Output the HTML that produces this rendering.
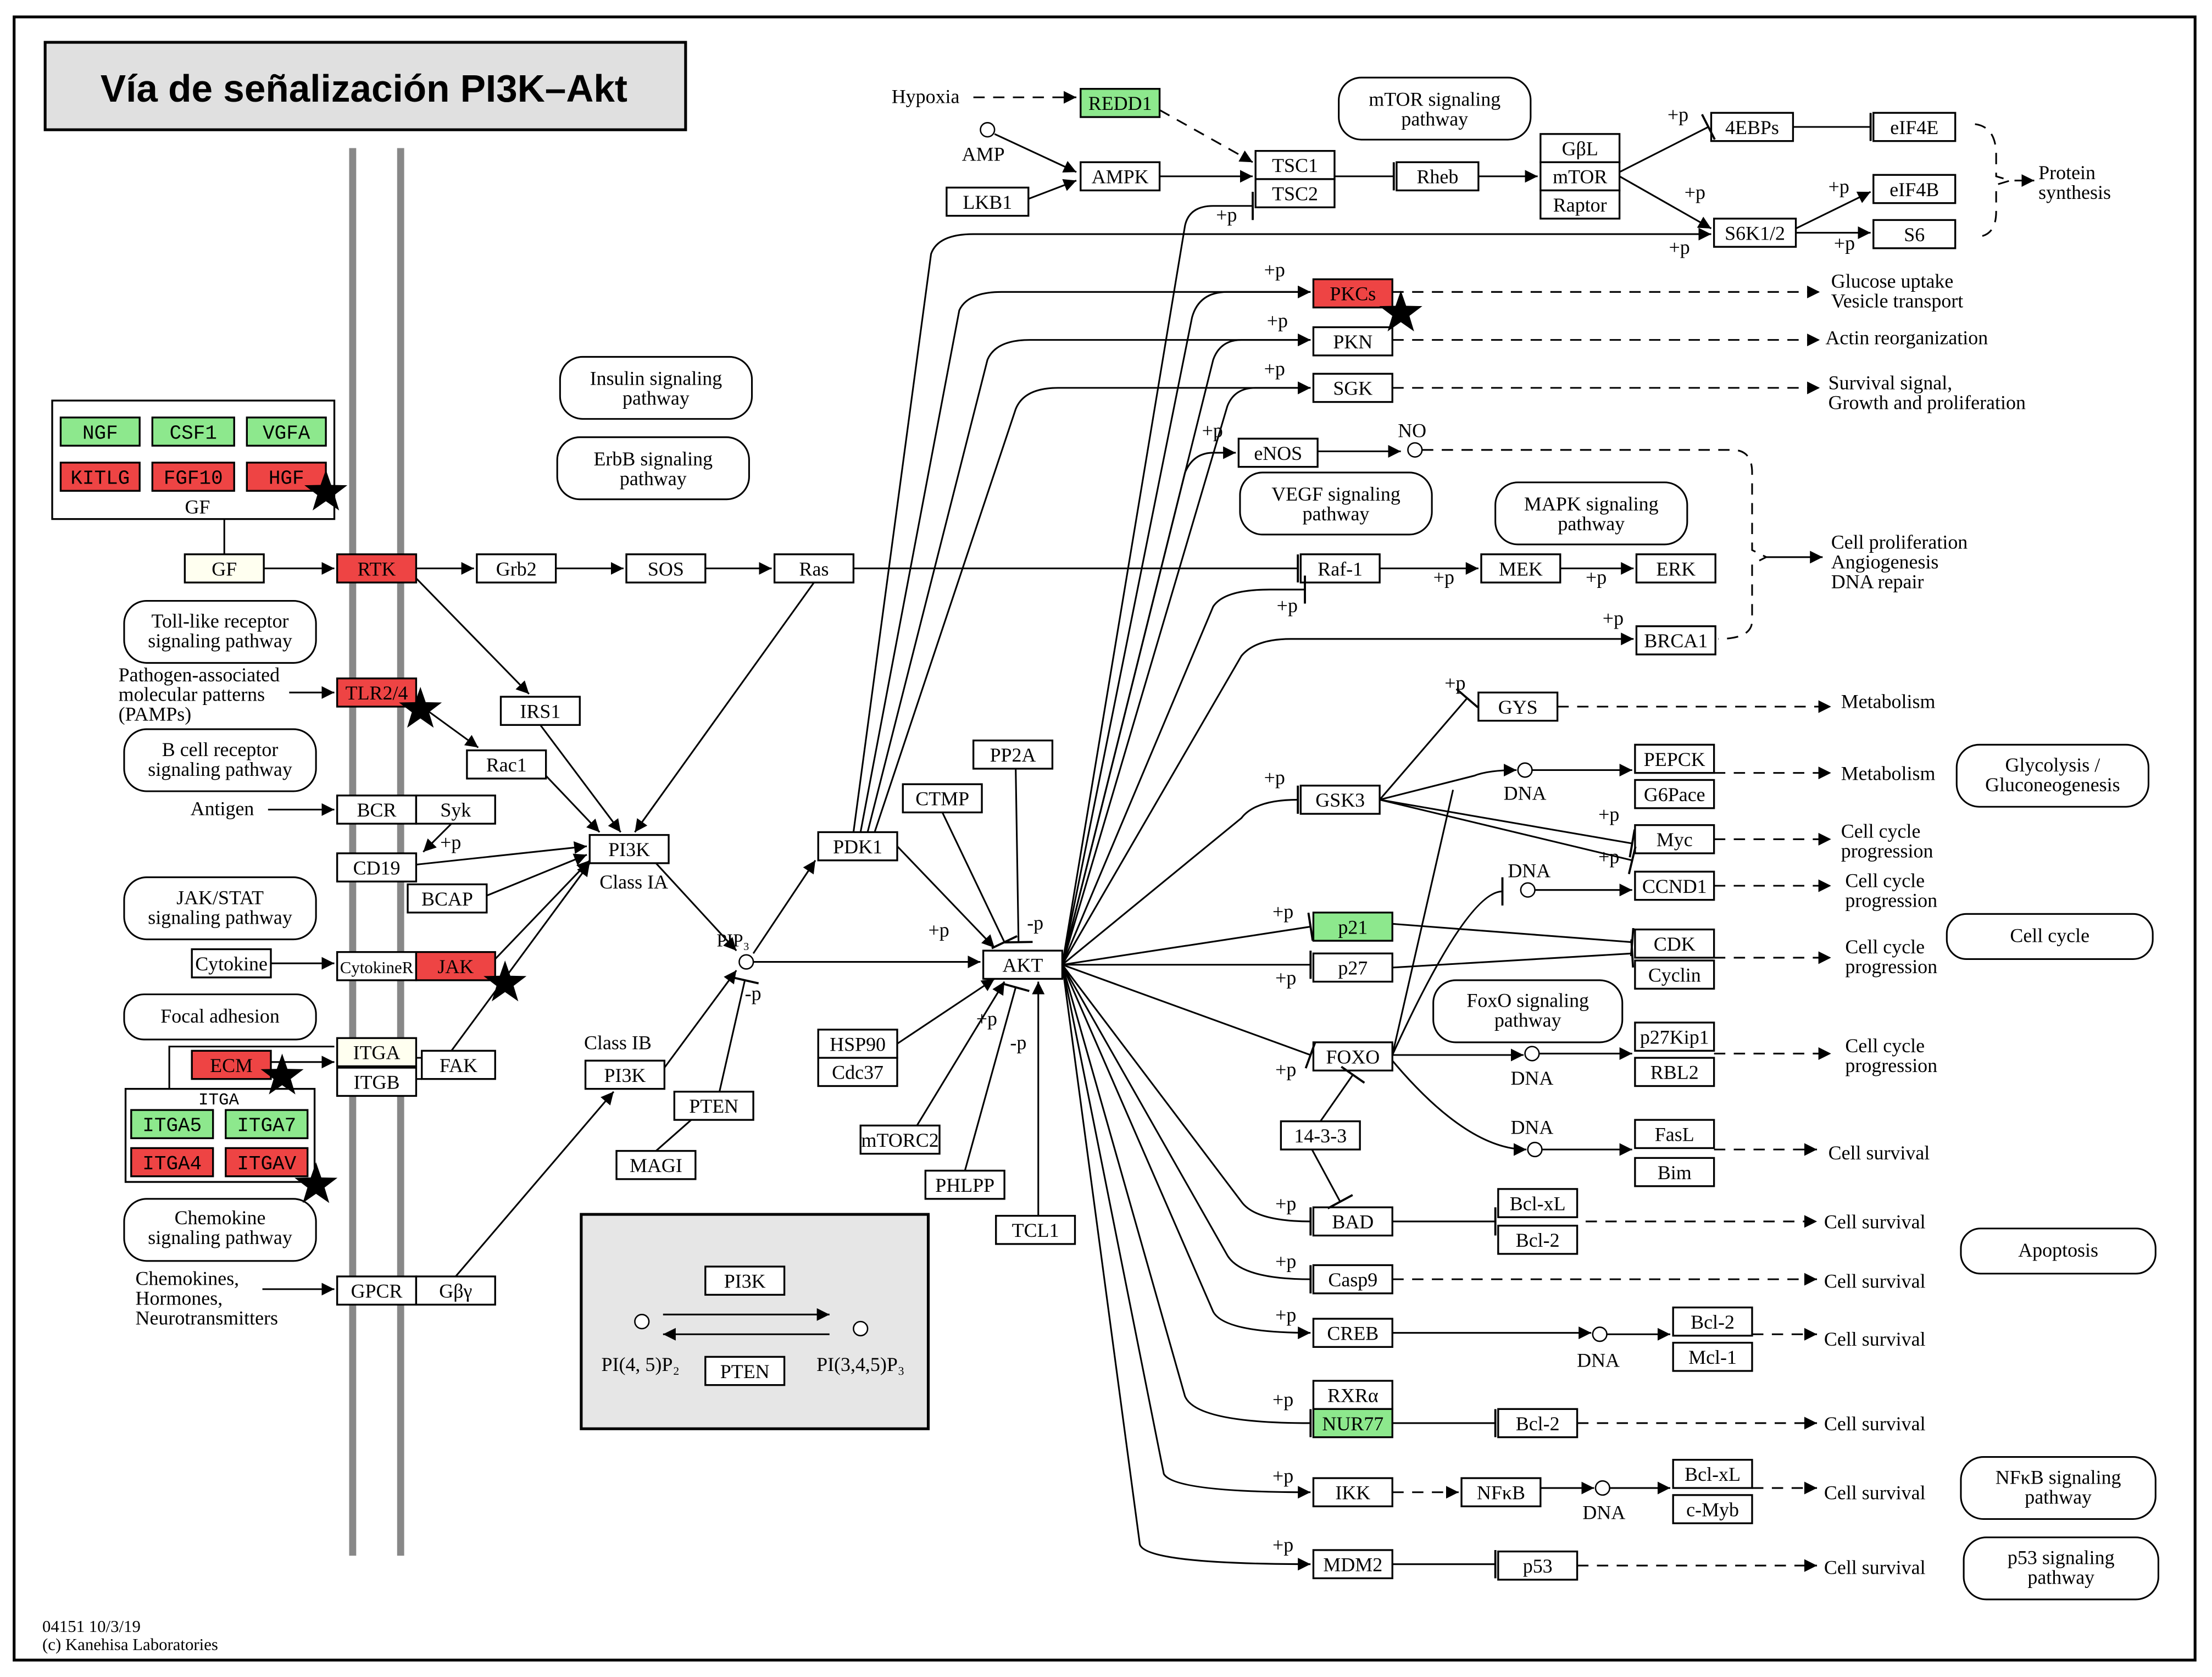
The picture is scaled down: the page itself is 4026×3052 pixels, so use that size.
<!DOCTYPE html>
<html><head><meta charset="utf-8"><style>
html,body{margin:0;padding:0;background:#fff}
svg{display:block}
.n{fill:#fff;stroke:#000;stroke-width:1.3}
.g{fill:#8de88d;stroke:#000;stroke-width:1.3}
.r{fill:#ee4444;stroke:#000;stroke-width:1.3}
.rr{fill:#fff;stroke:#000;stroke-width:1.2}
text{font-family:"Liberation Serif",serif;font-size:14px;fill:#000}
.c{text-anchor:middle}
.m{font-family:"Liberation Mono",monospace;font-size:14px}
.e{fill:none;stroke:#000;stroke-width:1.2}
.d{fill:none;stroke:#000;stroke-width:1.2;stroke-dasharray:8,6}
</style></head><body>
<svg width="4026" height="3052" viewBox="0 0 1568 1189" preserveAspectRatio="none" xmlns="http://www.w3.org/2000/svg">
<defs>
<marker id="a" viewBox="0 0 10 10" refX="10" refY="5" markerWidth="9" markerHeight="9" markerUnits="userSpaceOnUse" orient="auto"><path d="M0,0L10,5L0,10z"/></marker>
<marker id="t" viewBox="0 0 4 20" refX="2" refY="10" markerWidth="4" markerHeight="20" markerUnits="userSpaceOnUse" orient="auto"><path d="M2,0V20" stroke="#000" stroke-width="1.5"/></marker>
<symbol id="s" viewBox="-1 -1 2 2"><path d="M0,-1L0.235,-0.324L0.951,-0.309L0.38,0.124L0.588,0.809L0,0.4L-0.588,0.809L-0.38,0.124L-0.951,-0.309L-0.235,-0.324z"/></symbol>
</defs>
<rect x="10" y="12" width="1546" height="1165" fill="none" stroke="#000" stroke-width="2"/>
<rect x="32" y="30" width="454" height="62" fill="#e0e0e0" stroke="#000" stroke-width="2"/>
<text x="258" y="72" class="c" style="font-family:'Liberation Sans',sans-serif;font-weight:bold;font-size:27px">Vía de señalización PI3K–Akt</text>
<line x1="250" y1="105" x2="250" y2="1103" stroke="#888" stroke-width="5"/>
<line x1="284" y1="105" x2="284" y2="1103" stroke="#888" stroke-width="5"/>

<rect class="rr" x="949" y="55" width="136" height="44" rx="16"/><text class="c" x="1017" y="75">mTOR signaling</text><text class="c" x="1017" y="89">pathway</text>
<rect class="rr" x="397" y="253" width="136" height="44" rx="16"/><text class="c" x="465" y="273">Insulin signaling</text><text class="c" x="465" y="287">pathway</text>
<rect class="rr" x="395" y="310" width="136" height="44" rx="16"/><text class="c" x="463" y="330">ErbB signaling</text><text class="c" x="463" y="344">pathway</text>
<rect class="rr" x="879" y="335" width="136" height="44" rx="16"/><text class="c" x="947" y="355">VEGF signaling</text><text class="c" x="947" y="369">pathway</text>
<rect class="rr" x="1060" y="342" width="136" height="44" rx="16"/><text class="c" x="1128" y="362">MAPK signaling</text><text class="c" x="1128" y="376">pathway</text>
<rect class="rr" x="88" y="426" width="136" height="44" rx="16"/><text class="c" x="156" y="445">Toll-like receptor</text><text class="c" x="156" y="459">signaling pathway</text>
<rect class="rr" x="88" y="517" width="136" height="44" rx="16"/><text class="c" x="156" y="536">B cell receptor</text><text class="c" x="156" y="550">signaling pathway</text>
<rect class="rr" x="88" y="622" width="136" height="44" rx="16"/><text class="c" x="156" y="641">JAK/STAT</text><text class="c" x="156" y="655">signaling pathway</text>
<rect class="rr" x="88" y="705" width="136" height="32" rx="14"/><text class="c" x="156" y="725">Focal adhesion</text>
<rect class="rr" x="88" y="850" width="136" height="44" rx="16"/><text class="c" x="156" y="868">Chemokine</text><text class="c" x="156" y="882">signaling pathway</text>
<rect class="rr" x="1016" y="695" width="134" height="44" rx="16"/><text class="c" x="1083" y="714">FoxO signaling</text><text class="c" x="1083" y="728">pathway</text>
<rect class="rr" x="1387" y="528" width="136" height="44" rx="16"/><text class="c" x="1455" y="547">Glycolysis /</text><text class="c" x="1455" y="561">Gluconeogenesis</text>
<rect class="rr" x="1380" y="648" width="146" height="32" rx="14"/><text class="c" x="1453" y="668">Cell cycle</text>
<rect class="rr" x="1390" y="871" width="138" height="32" rx="14"/><text class="c" x="1459" y="891">Apoptosis</text>
<rect class="rr" x="1390" y="1033" width="138" height="44" rx="16"/><text class="c" x="1459" y="1052">NFκB signaling</text><text class="c" x="1459" y="1066">pathway</text>
<rect class="rr" x="1392" y="1090" width="138" height="44" rx="16"/><text class="c" x="1461" y="1109">p53 signaling</text><text class="c" x="1461" y="1123">pathway</text>

<rect x="412" y="861" width="246" height="152" fill="#e6e6e6" stroke="#000" stroke-width="2"/>
<rect class="n" x="500" y="898" width="56" height="20"/><text class="c" x="528" y="913">PI3K</text>
<rect class="n" x="500" y="962" width="56" height="20"/><text class="c" x="528" y="977">PTEN</text>
<circle cx="455" cy="937" r="5" fill="#fff" stroke="#000"/><circle cx="610" cy="942" r="5" fill="#fff" stroke="#000"/>
<line class="e" x1="470" y1="932" x2="588" y2="932" marker-end="url(#a)"/>
<line class="e" x1="588" y1="946" x2="470" y2="946" marker-end="url(#a)"/>
<text class="c" x="454" y="972">PI(4, 5)P₂</text><text class="c" x="610" y="972">PI(3,4,5)P₃</text>

<rect class="n" x="37" y="284" width="200" height="84"/>
<rect class="g" x="43" y="296" width="56" height="20"/><text class="c m" x="71" y="311">NGF</text>
<rect class="g" x="108" y="296" width="58" height="20"/><text class="c m" x="137" y="311">CSF1</text>
<rect class="g" x="175" y="296" width="56" height="20"/><text class="c m" x="203" y="311">VGFA</text>
<rect class="r" x="43" y="328" width="56" height="20"/><text class="c m" x="71" y="343">KITLG</text>
<rect class="r" x="108" y="328" width="58" height="20"/><text class="c m" x="137" y="343">FGF10</text>
<rect class="r" x="175" y="328" width="56" height="20"/><text class="c m" x="203" y="343">HGF</text>
<text class="c" x="140" y="364">GF</text>
<line class="e" x1="159" y1="368" x2="159" y2="393"/>

<rect class="n" x="89" y="772" width="134" height="66"/>
<text class="c m" x="155" y="783" style="font-size:12px">ITGA</text>
<rect class="g" x="93" y="787" width="58" height="20"/><text class="c m" x="122" y="802">ITGA5</text>
<rect class="g" x="160" y="787" width="58" height="20"/><text class="c m" x="189" y="802">ITGA7</text>
<rect class="r" x="93" y="814" width="58" height="20"/><text class="c m" x="122" y="829">ITGA4</text>
<rect class="r" x="160" y="814" width="58" height="20"/><text class="c m" x="189" y="829">ITGAV</text>

<g>
<rect class="g" x="766" y="63" width="56" height="20"/><text class="c" x="794" y="78">REDD1</text>
<rect class="n" x="671" y="133" width="58" height="20"/><text class="c" x="700" y="148">LKB1</text>
<rect class="n" x="766" y="115" width="56" height="20"/><text class="c" x="794" y="130">AMPK</text>
<rect class="n" x="890" y="107" width="56" height="20"/><text class="c" x="918" y="122">TSC1</text>
<rect class="n" x="890" y="127" width="56" height="20"/><text class="c" x="918" y="142">TSC2</text>
<rect class="n" x="990" y="115" width="58" height="20"/><text class="c" x="1019" y="130">Rheb</text>
<rect class="n" x="1092" y="95" width="56" height="20"/><text class="c" x="1120" y="110">GβL</text>
<rect class="n" x="1092" y="115" width="56" height="20"/><text class="c" x="1120" y="130">mTOR</text>
<rect class="n" x="1092" y="135" width="56" height="20"/><text class="c" x="1120" y="150">Raptor</text>
<rect class="n" x="1213" y="80" width="58" height="20"/><text class="c" x="1242" y="95">4EBPs</text>
<rect class="n" x="1328" y="80" width="58" height="20"/><text class="c" x="1357" y="95">eIF4E</text>
<rect class="n" x="1328" y="124" width="58" height="20"/><text class="c" x="1357" y="139">eIF4B</text>
<rect class="n" x="1328" y="156" width="58" height="20"/><text class="c" x="1357" y="171">S6</text>
<rect class="n" x="1215" y="155" width="58" height="20"/><text class="c" x="1244" y="170">S6K1/2</text>
<rect class="r" x="931" y="198" width="56" height="20"/><text class="c" x="959" y="213">PKCs</text>
<rect class="n" x="931" y="232" width="56" height="20"/><text class="c" x="959" y="247">PKN</text>
<rect class="n" x="931" y="265" width="56" height="20"/><text class="c" x="959" y="280">SGK</text>
<rect class="n" x="878" y="311" width="56" height="20"/><text class="c" x="906" y="326">eNOS</text>
<rect class="n" x="922" y="393" width="56" height="20"/><text class="c" x="950" y="408">Raf-1</text>
<rect class="n" x="1050" y="393" width="56" height="20"/><text class="c" x="1078" y="408">MEK</text>
<rect class="n" x="1160" y="393" width="56" height="20"/><text class="c" x="1188" y="408">ERK</text>
<rect class="n" x="1160" y="444" width="56" height="20"/><text class="c" x="1188" y="459">BRCA1</text>
<rect x="131" y="393" width="56" height="20" fill="#fffff0" stroke="#000" stroke-width="1.3"/><text class="c" x="159" y="408">GF</text>
<rect class="r" x="239" y="393" width="56" height="20"/><text class="c" x="267" y="408">RTK</text>
<rect class="n" x="338" y="393" width="56" height="20"/><text class="c" x="366" y="408">Grb2</text>
<rect class="n" x="444" y="393" width="56" height="20"/><text class="c" x="472" y="408">SOS</text>
<rect class="n" x="549" y="393" width="56" height="20"/><text class="c" x="577" y="408">Ras</text>
<rect class="r" x="239" y="481" width="56" height="20"/><text class="c" x="267" y="496">TLR2/4</text>
<rect class="n" x="355" y="494" width="56" height="20"/><text class="c" x="383" y="509">IRS1</text>
<rect class="n" x="331" y="532" width="56" height="20"/><text class="c" x="359" y="547">Rac1</text>
<rect class="n" x="239" y="564" width="56" height="20"/><text class="c" x="267" y="579">BCR</text>
<rect class="n" x="295" y="564" width="56" height="20"/><text class="c" x="323" y="579">Syk</text>
<rect class="n" x="239" y="605" width="56" height="20"/><text class="c" x="267" y="620">CD19</text>
<rect class="n" x="289" y="627" width="56" height="20"/><text class="c" x="317" y="642">BCAP</text>
<rect class="n" x="418" y="592" width="56" height="20"/><text class="c" x="446" y="607">PI3K</text>
<rect class="n" x="136" y="673" width="56" height="20"/><text class="c" x="164" y="688">Cytokine</text>
<rect class="n" x="239" y="675" width="56" height="20"/><text class="c" x="267" y="690" style="font-size:12px">CytokineR</text>
<rect class="r" x="295" y="675" width="56" height="20"/><text class="c" x="323" y="690">JAK</text>
<rect class="r" x="136" y="745" width="56" height="20"/><text class="c" x="164" y="760">ECM</text>
<rect x="239" y="736" width="56" height="20" fill="#fffff0" stroke="#000" stroke-width="1.3"/><text class="c" x="267" y="751">ITGA</text>
<rect class="n" x="239" y="757" width="56" height="20"/><text class="c" x="267" y="772">ITGB</text>
<rect class="n" x="299" y="745" width="52" height="20"/><text class="c" x="325" y="760">FAK</text>
<rect class="n" x="239" y="905" width="56" height="20"/><text class="c" x="267" y="920">GPCR</text>
<rect class="n" x="295" y="905" width="56" height="20"/><text class="c" x="323" y="920">Gβγ</text>
<rect class="n" x="415" y="752" width="56" height="20"/><text class="c" x="443" y="767">PI3K</text>
<rect class="n" x="478" y="774" width="56" height="20"/><text class="c" x="506" y="789">PTEN</text>
<rect class="n" x="437" y="816" width="56" height="20"/><text class="c" x="465" y="831">MAGI</text>
<rect class="n" x="580" y="590" width="56" height="20"/><text class="c" x="608" y="605">PDK1</text>
<rect class="n" x="640" y="556" width="56" height="20"/><text class="c" x="668" y="571">CTMP</text>
<rect class="n" x="690" y="525" width="56" height="20"/><text class="c" x="718" y="540">PP2A</text>
<rect class="n" x="697" y="674" width="56" height="20"/><text class="c" x="725" y="689">AKT</text>
<rect class="n" x="580" y="730" width="56" height="20"/><text class="c" x="608" y="745">HSP90</text>
<rect class="n" x="580" y="750" width="56" height="20"/><text class="c" x="608" y="765">Cdc37</text>
<rect class="n" x="610" y="798" width="56" height="20"/><text class="c" x="638" y="813">mTORC2</text>
<rect class="n" x="656" y="830" width="56" height="20"/><text class="c" x="684" y="845">PHLPP</text>
<rect class="n" x="706" y="862" width="56" height="20"/><text class="c" x="734" y="877">TCL1</text>
<rect class="n" x="1048" y="491" width="56" height="20"/><text class="c" x="1076" y="506">GYS</text>
<rect class="n" x="922" y="557" width="56" height="20"/><text class="c" x="950" y="572">GSK3</text>
<rect class="n" x="1159" y="528" width="56" height="20"/><text class="c" x="1187" y="543">PEPCK</text>
<rect class="n" x="1159" y="553" width="56" height="20"/><text class="c" x="1187" y="568">G6Pace</text>
<rect class="n" x="1159" y="585" width="56" height="20"/><text class="c" x="1187" y="600">Myc</text>
<rect class="n" x="1159" y="618" width="56" height="20"/><text class="c" x="1187" y="633">CCND1</text>
<rect class="g" x="931" y="647" width="56" height="20"/><text class="c" x="959" y="662">p21</text>
<rect class="n" x="931" y="676" width="56" height="20"/><text class="c" x="959" y="691">p27</text>
<rect class="n" x="1159" y="659" width="56" height="20"/><text class="c" x="1187" y="674">CDK</text>
<rect class="n" x="1159" y="681" width="56" height="20"/><text class="c" x="1187" y="696">Cyclin</text>
<rect class="n" x="931" y="739" width="56" height="20"/><text class="c" x="959" y="754">FOXO</text>
<rect class="n" x="1159" y="725" width="56" height="20"/><text class="c" x="1187" y="740">p27Kip1</text>
<rect class="n" x="1159" y="750" width="56" height="20"/><text class="c" x="1187" y="765">RBL2</text>
<rect class="n" x="908" y="795" width="56" height="20"/><text class="c" x="936" y="810">14-3-3</text>
<rect class="n" x="1159" y="794" width="56" height="20"/><text class="c" x="1187" y="809">FasL</text>
<rect class="n" x="1159" y="821" width="56" height="20"/><text class="c" x="1187" y="836">Bim</text>
<rect class="n" x="931" y="856" width="56" height="20"/><text class="c" x="959" y="871">BAD</text>
<rect class="n" x="1062" y="843" width="56" height="20"/><text class="c" x="1090" y="858">Bcl-xL</text>
<rect class="n" x="1062" y="869" width="56" height="20"/><text class="c" x="1090" y="884">Bcl-2</text>
<rect class="n" x="931" y="897" width="56" height="20"/><text class="c" x="959" y="912">Casp9</text>
<rect class="n" x="931" y="935" width="56" height="20"/><text class="c" x="959" y="950">CREB</text>
<rect class="n" x="1186" y="927" width="56" height="20"/><text class="c" x="1214" y="942">Bcl-2</text>
<rect class="n" x="1186" y="952" width="56" height="20"/><text class="c" x="1214" y="967">Mcl-1</text>
<rect class="n" x="931" y="979" width="56" height="20"/><text class="c" x="959" y="994">RXRα</text>
<rect class="g" x="931" y="999" width="56" height="20"/><text class="c" x="959" y="1014">NUR77</text>
<rect class="n" x="1062" y="999" width="56" height="20"/><text class="c" x="1090" y="1014">Bcl-2</text>
<rect class="n" x="931" y="1048" width="56" height="20"/><text class="c" x="959" y="1063">IKK</text>
<rect class="n" x="1036" y="1048" width="56" height="20"/><text class="c" x="1064" y="1063">NFκB</text>
<rect class="n" x="1186" y="1035" width="56" height="20"/><text class="c" x="1214" y="1050">Bcl-xL</text>
<rect class="n" x="1186" y="1060" width="56" height="20"/><text class="c" x="1214" y="1075">c-Myb</text>
<rect class="n" x="931" y="1099" width="56" height="20"/><text class="c" x="959" y="1114">MDM2</text>
<rect class="n" x="1062" y="1100" width="56" height="20"/><text class="c" x="1090" y="1115">p53</text>
</g>

<text x="632" y="73">Hypoxia</text>
<circle cx="700" cy="92" r="5" fill="#fff" stroke="#000"/><text class="c" x="697" y="114">AMP</text>
<text x="1445" y="127">Protein</text><text x="1445" y="141">synthesis</text>
<text x="1298" y="204">Glucose uptake</text><text x="1298" y="218">Vesicle transport</text>
<text x="1294" y="244">Actin reorganization</text>
<text x="1296" y="276">Survival signal,</text><text x="1296" y="290">Growth and proliferation</text>
<circle cx="1003" cy="319" r="5" fill="#fff" stroke="#000"/><text class="c" x="1001" y="310">NO</text>
<text x="1298" y="389">Cell proliferation</text><text x="1298" y="403">Angiogenesis</text><text x="1298" y="417">DNA repair</text>
<text x="84" y="483">Pathogen-associated</text><text x="84" y="497">molecular patterns</text><text x="84" y="511">(PAMPs)</text>
<text x="135" y="578">Antigen</text>
<text x="425" y="630">Class IA</text>
<text x="414" y="744">Class IB</text>
<text x="96" y="911">Chemokines,</text><text x="96" y="925">Hormones,</text><text x="96" y="939">Neurotransmitters</text>
<circle cx="529" cy="682" r="5" fill="#fff" stroke="#000"/><text x="508" y="671" style="font-size:13px">PIP₃</text>
<text x="1305" y="502">Metabolism</text>
<text x="1305" y="553">Metabolism</text>
<text x="1305" y="594">Cell cycle</text><text x="1305" y="608">progression</text>
<text x="1308" y="629">Cell cycle</text><text x="1308" y="643">progression</text>
<text x="1308" y="676">Cell cycle</text><text x="1308" y="690">progression</text>
<text x="1308" y="746">Cell cycle</text><text x="1308" y="760">progression</text>
<text x="1296" y="822">Cell survival</text>
<text x="1293" y="871">Cell survival</text>
<text x="1293" y="913">Cell survival</text>
<text x="1293" y="954">Cell survival</text>
<text x="1293" y="1014">Cell survival</text>
<text x="1293" y="1063">Cell survival</text>
<text x="1293" y="1116">Cell survival</text>
<text x="30" y="1157" style="font-size:12px">04151 10/3/19</text>
<text x="30" y="1170" style="font-size:12px">(c) Kanehisa Laboratories</text>
<circle cx="1081" cy="546" r="5" fill="#fff" stroke="#000"/><text class="c" x="1081" y="567">DNA</text>
<circle cx="1083" cy="631" r="5" fill="#fff" stroke="#000"/><text class="c" x="1084" y="622">DNA</text>
<circle cx="1086" cy="747" r="5" fill="#fff" stroke="#000"/><text class="c" x="1086" y="769">DNA</text>
<circle cx="1088" cy="815" r="5" fill="#fff" stroke="#000"/><text class="c" x="1086" y="804">DNA</text>
<circle cx="1134" cy="946" r="5" fill="#fff" stroke="#000"/><text class="c" x="1133" y="969">DNA</text>
<circle cx="1136" cy="1055" r="5" fill="#fff" stroke="#000"/><text class="c" x="1137" y="1077">DNA</text>
<g style="font-size:13px">
<text x="1182" y="86">+p</text><text x="1194" y="141">+p</text><text x="1296" y="137">+p</text><text x="1300" y="177">+p</text><text x="1183" y="180">+p</text>
<text x="862" y="157">+p</text><text x="896" y="196">+p</text><text x="898" y="232">+p</text><text x="896" y="266">+p</text><text x="852" y="310">+p</text>
<text x="905" y="434">+p</text><text x="1016" y="414">+p</text><text x="1124" y="414">+p</text><text x="1136" y="443">+p</text>
<text x="312" y="602">+p</text><text x="658" y="664">+p</text><text x="728" y="659">-p</text><text x="692" y="727">+p</text><text x="716" y="744">-p</text><text x="528" y="709">-p</text>
<text x="1024" y="489">+p</text><text x="896" y="556">+p</text><text x="1133" y="582">+p</text><text x="1133" y="612">+p</text>
<text x="902" y="651">+p</text><text x="904" y="698">+p</text><text x="904" y="763">+p</text><text x="904" y="858">+p</text><text x="904" y="899">+p</text><text x="904" y="937">+p</text><text x="902" y="997">+p</text><text x="902" y="1051">+p</text><text x="902" y="1100">+p</text>
</g>

<g class="e" fill="none" stroke="#000" stroke-width="1.2">
<path class="d" d="M690,69H763" marker-end="url(#a)"/>
<path class="d" d="M822,78L888,115" marker-end="url(#a)"/>
<path d="M705,95L763,122" marker-end="url(#a)"/>
<path d="M729,141L763,128" marker-end="url(#a)"/>
<path d="M822,125H888" marker-end="url(#a)"/>
<path d="M946,125H988" marker-end="url(#t)"/>
<path d="M1048,125H1090" marker-end="url(#a)"/>
<path d="M1148,122L1211,90" marker-end="url(#t)"/>
<path d="M1271,90H1326" marker-end="url(#t)"/>
<path d="M1148,125L1213,162" marker-end="url(#a)"/>
<path d="M1273,162L1326,136" marker-end="url(#a)"/>
<path d="M1273,165H1326" marker-end="url(#a)"/>
<path class="d" d="M1400,88Q1415,90 1415,110V125L1425,128L1415,131V150Q1415,168 1400,168"/>
<path d="M1428,128H1442" marker-end="url(#a)"/>
<path class="d" d="M987,207H1290" marker-end="url(#a)"/>
<path class="d" d="M987,241H1290" marker-end="url(#a)"/>
<path class="d" d="M987,275H1290" marker-end="url(#a)"/>
<path d="M934,320H993" marker-end="url(#a)"/>
<path class="d" d="M1008,319H1228Q1242,319 1242,335V390L1252,395L1242,400V440Q1242,453 1218,453"/>
<path d="M1252,395H1292" marker-end="url(#a)"/>
<path d="M978,403H1048" marker-end="url(#a)"/>
<path d="M1106,403H1158" marker-end="url(#a)"/>
<path d="M187,403H237" marker-end="url(#a)"/>
<path d="M295,403H336" marker-end="url(#a)"/>
<path d="M394,403H442" marker-end="url(#a)"/>
<path d="M500,403H547" marker-end="url(#a)"/>
<path d="M605,403H920" marker-end="url(#t)"/>
<path d="M295,410L375,492" marker-end="url(#a)"/>
<path d="M295,498L339,530" marker-end="url(#a)"/>
<path d="M205,491H237" marker-end="url(#a)"/>
<path d="M383,514L440,590" marker-end="url(#a)"/>
<path d="M387,550L425,590" marker-end="url(#a)"/>
<path d="M577,413L450,590" marker-end="url(#a)"/>
<path d="M190,574H237" marker-end="url(#a)"/>
<path d="M320,584L300,604" marker-end="url(#a)"/>
<path d="M295,613L416,600" marker-end="url(#a)"/>
<path d="M345,635L416,606" marker-end="url(#a)"/>
<path d="M351,680L418,610" marker-end="url(#a)"/>
<path d="M320,745L418,612" marker-end="url(#a)"/>
<path d="M192,683H237" marker-end="url(#a)"/>
<path d="M192,753H237" marker-end="url(#a)"/>
<path d="M120,772V742H237"/>
<path d="M295,750H299M295,765H299"/>
<path d="M186,914H237" marker-end="url(#a)"/>
<path d="M323,905L435,774" marker-end="url(#a)"/>
<path d="M465,816L490,794"/>
<path d="M465,612L522,674" marker-end="url(#a)"/>
<path d="M471,757L522,688" marker-end="url(#a)"/>
<path d="M510,774L528,695" marker-end="url(#t)"/>
<path d="M534,682H695" marker-end="url(#a)"/>
<path d="M534,676L578,610" marker-end="url(#a)"/>
<path d="M636,600L705,672" marker-end="url(#a)"/>
<path d="M668,576L712,668" marker-end="url(#t)"/>
<path d="M720,545L722,668" marker-end="url(#t)"/>
<path d="M636,740L705,694" marker-end="url(#a)"/>
<path d="M650,798L712,696" marker-end="url(#a)"/>
<path d="M684,830L720,700" marker-end="url(#t)"/>
<path d="M736,862V696" marker-end="url(#a)"/>
<path d="M605,590L660,180Q665,166 690,166H1213" marker-end="url(#a)"/>
<path d="M610,590L680,220Q686,207 710,207H929" marker-end="url(#a)"/>
<path d="M615,590L700,255Q706,241 730,241H929" marker-end="url(#a)"/>
<path d="M620,590L720,290Q726,275 750,275H929" marker-end="url(#a)"/>
<path d="M753,684L840,160Q843,146 860,146H888" marker-end="url(#t)"/>
<path d="M753,684L845,225Q850,207 870,207H929" marker-end="url(#a)"/>
<path d="M753,684L860,255Q865,241 880,241H929" marker-end="url(#a)"/>
<path d="M753,684L870,288Q875,275 890,275H929" marker-end="url(#a)"/>
<path d="M753,684L840,335Q846,321 860,321H876" marker-end="url(#a)"/>
<path d="M753,684L860,430Q868,418 900,418H925" marker-end="url(#t)"/>
<path d="M753,684L880,465Q890,453 915,453H1158" marker-end="url(#a)"/>
<path d="M753,684L880,580Q890,567 920,567" marker-end="url(#t)"/>
<path d="M753,684L929,657" marker-end="url(#t)"/>
<path d="M753,684H929" marker-end="url(#t)"/>
<path d="M753,684L929,748" marker-end="url(#t)"/>
<path d="M753,684L880,852Q890,866 929,866" marker-end="url(#t)"/>
<path d="M753,684L870,890Q880,907 929,907" marker-end="url(#t)"/>
<path d="M753,684L860,930Q868,945 929,945" marker-end="url(#a)"/>
<path d="M753,684L840,990Q848,1009 929,1009" marker-end="url(#t)"/>
<path d="M753,684L825,1045Q832,1058 929,1058" marker-end="url(#a)"/>
<path d="M753,684L808,1095Q812,1109 929,1109" marker-end="url(#a)"/>
<path d="M978,567L1040,495" marker-end="url(#t)"/>
<path class="d" d="M1104,501H1298" marker-end="url(#a)"/>
<path d="M978,567L1045,550Q1055,546 1075,546" marker-end="url(#a)"/>
<path d="M1086,546H1157" marker-end="url(#a)"/>
<path class="d" d="M1215,548H1298" marker-end="url(#a)"/>
<path d="M978,567L1157,598" marker-end="url(#t)"/>
<path d="M978,567L1157,610" marker-end="url(#t)"/>
<path class="d" d="M1215,595H1298" marker-end="url(#a)"/>
<path d="M1088,631H1157" marker-end="url(#a)"/>
<path class="d" d="M1215,628H1298" marker-end="url(#a)"/>
<path d="M987,655L1157,668" marker-end="url(#t)"/>
<path d="M987,686L1157,676" marker-end="url(#t)"/>
<path class="d" d="M1215,679H1298" marker-end="url(#a)"/>
<path d="M987,748L1030,560" />
<path d="M987,748Q1040,632 1065,632" marker-end="url(#t)"/>
<path d="M987,748H1080" marker-end="url(#a)"/>
<path d="M1091,747H1157" marker-end="url(#a)"/>
<path class="d" d="M1215,747H1298" marker-end="url(#a)"/>
<path d="M987,752Q1040,815 1082,815" marker-end="url(#a)"/>
<path d="M1093,815H1157" marker-end="url(#a)"/>
<path class="d" d="M1215,815H1288" marker-end="url(#a)"/>
<path d="M936,795L959,762" marker-end="url(#t)"/>
<path d="M930,815L950,852" marker-end="url(#t)"/>
<path d="M987,866H1060" marker-end="url(#t)"/>
<path class="d" d="M1124,866H1288" marker-end="url(#a)"/>
<path class="d" d="M987,907H1288" marker-end="url(#a)"/>
<path d="M987,945H1128" marker-end="url(#a)"/>
<path d="M1139,946H1184" marker-end="url(#a)"/>
<path class="d" d="M1242,946H1288" marker-end="url(#a)"/>
<path d="M987,1009H1060" marker-end="url(#t)"/>
<path class="d" d="M1118,1009H1288" marker-end="url(#a)"/>
<path class="d" d="M987,1058H1034" marker-end="url(#a)"/>
<path d="M1092,1055H1130" marker-end="url(#a)"/>
<path d="M1141,1055H1184" marker-end="url(#a)"/>
<path class="d" d="M1242,1055H1288" marker-end="url(#a)"/>
<path d="M987,1109H1060" marker-end="url(#t)"/>
<path class="d" d="M1118,1110H1288" marker-end="url(#a)"/>
</g>
<use href="#s" x="215" y="333" width="32" height="32"/>
<use href="#s" x="282" y="487" width="32" height="32"/>
<use href="#s" x="977" y="206" width="32" height="32"/>
<use href="#s" x="342" y="681" width="32" height="32"/>
<use href="#s" x="184" y="747" width="32" height="32"/>
<use href="#s" x="208" y="824" width="32" height="32"/>
</svg>
</body></html>
